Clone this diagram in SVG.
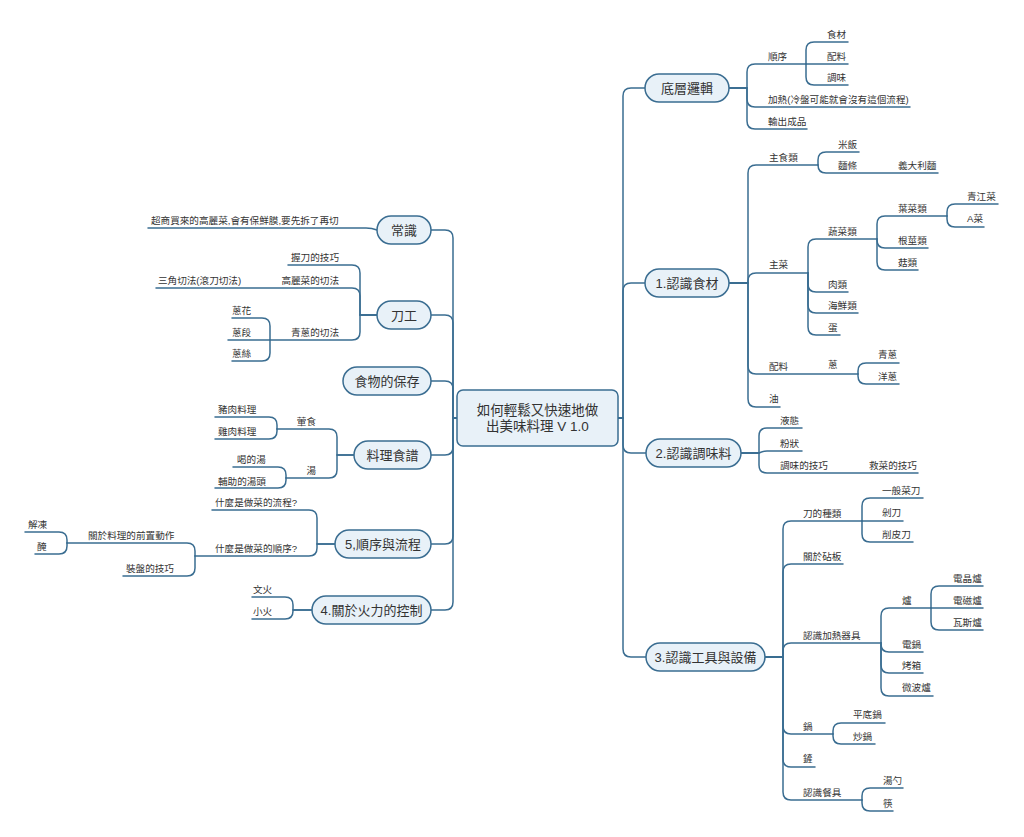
<svg xmlns="http://www.w3.org/2000/svg" width="1024" height="837" viewBox="0 0 1024 837">
<style>
.c{fill:none;stroke:#3a6d91;stroke-width:1.5;stroke-linecap:round}
.p{fill:#e8f1f8;stroke:#3a6d91;stroke-width:1.5}
.t{font-family:"Liberation Sans","Noto Sans CJK TC",sans-serif;font-size:9.6px;fill:#333}
.pt{font-family:"Liberation Sans","Noto Sans CJK TC",sans-serif;font-size:13px;fill:#333;text-anchor:middle}
.e{text-anchor:end}
</style>
<rect width="1024" height="837" fill="#fff"/>
<g id="connectors">
<path class="c" d="M618 418 H623 V96 Q623 88 631 88 H645"/>
<path class="c" d="M618 418 H623 V291 Q623 283 631 283 H645"/>
<path class="c" d="M618 418 H623 V445 Q623 453 631 453 H646"/>
<path class="c" d="M618 418 H623 V649 Q623 657 631 657 H646"/>
<path class="c" d="M729 88 H747 V72 Q747 64 755 64 H806"/>
<path class="c" d="M729 88 H747 V99 Q747 107 755 107 H910"/>
<path class="c" d="M729 88 H747 V121 Q747 129 755 129 H807"/>
<path class="c" d="M806 64 V50 Q806 42 814 42 H848"/>
<path class="c" d="M806 64 H848"/>
<path class="c" d="M806 64 V77 Q806 85 814 85 H848"/>
<path class="c" d="M729 283 H748 V173 Q748 165 756 165 H818"/>
<path class="c" d="M729 283 H748 V281 Q748 273 756 273 H808"/>
<path class="c" d="M729 283 H748 V366 Q748 374 756 374 H858"/>
<path class="c" d="M729 283 H748 V399 Q748 407 756 407 H780"/>
<path class="c" d="M818 165 V160 Q818 152 826 152 H859"/>
<path class="c" d="M818 165 Q818 173 826 173 H938"/>
<path class="c" d="M808 273 V247 Q808 239 816 239 H877"/>
<path class="c" d="M808 273 V284 Q808 292 816 292 H848"/>
<path class="c" d="M808 273 V305 Q808 313 816 313 H858"/>
<path class="c" d="M808 273 V327 Q808 335 816 335 H840"/>
<path class="c" d="M877 239 V224 Q877 216 885 216 H947"/>
<path class="c" d="M877 239 V240 Q877 248 885 248 H928"/>
<path class="c" d="M877 239 V262 Q877 270 885 270 H918"/>
<path class="c" d="M947 216 V212 Q947 204 955 204 H998"/>
<path class="c" d="M947 216 V219 Q947 227 955 227 H984"/>
<path class="c" d="M858 374 V371 Q858 363 866 363 H899"/>
<path class="c" d="M858 374 V376 Q858 384 866 384 H899"/>
<path class="c" d="M741 453 H759 V436 Q759 428 767 428 H802"/>
<path class="c" d="M741 453 H759 Q763 451 767 451 H802"/>
<path class="c" d="M741 453 H759 V465 Q759 473 767 473 H918"/>
<path class="c" d="M765 657 H783 V529 Q783 521 791 521 H862"/>
<path class="c" d="M765 657 H783 V572 Q783 564 791 564 H843"/>
<path class="c" d="M765 657 H783 V651 Q783 643 791 643 H881"/>
<path class="c" d="M765 657 H783 V726 Q783 734 791 734 H833"/>
<path class="c" d="M765 657 H783 V759 Q783 767 791 767 H815"/>
<path class="c" d="M765 657 H783 V792 Q783 800 791 800 H862"/>
<path class="c" d="M862 521 V506 Q862 498 870 498 H923"/>
<path class="c" d="M862 521 H903"/>
<path class="c" d="M862 521 V534 Q862 542 870 542 H913"/>
<path class="c" d="M881 643 V616 Q881 608 889 608 H931"/>
<path class="c" d="M881 643 V644 Q881 652 889 652 H923"/>
<path class="c" d="M881 643 V665 Q881 673 889 673 H923"/>
<path class="c" d="M881 643 V688 Q881 696 889 696 H933"/>
<path class="c" d="M931 608 V594 Q931 586 939 586 H983"/>
<path class="c" d="M931 608 H983"/>
<path class="c" d="M931 608 V622 Q931 630 939 630 H983"/>
<path class="c" d="M833 734 V731 Q833 723 841 723 H885"/>
<path class="c" d="M833 734 V736 Q833 744 841 744 H875"/>
<path class="c" d="M862 800 V796 Q862 788 870 788 H903"/>
<path class="c" d="M862 800 V803 Q862 811 870 811 H893"/>
<path class="c" d="M458 418 H453 V238 Q453 230 445 230 H431"/>
<path class="c" d="M458 418 H453 V323 Q453 315 445 315 H431"/>
<path class="c" d="M458 418 H453 V389 Q453 381 445 381 H431"/>
<path class="c" d="M458 418 H453 V447 Q453 455 445 455 H431"/>
<path class="c" d="M458 418 H453 V536 Q453 544 445 544 H431"/>
<path class="c" d="M458 418 H453 V602 Q453 610 445 610 H431"/>
<path class="c" d="M377 230 Q372 228 366 228 H148"/>
<path class="c" d="M377 315 H360 V273 Q360 265 352 265 H288"/>
<path class="c" d="M377 315 H360 V296 Q360 288 352 288 H156"/>
<path class="c" d="M377 315 H360 V332 Q360 340 352 340 H228"/>
<path class="c" d="M270 340 V326 Q270 318 262 318 H232"/>
<path class="c" d="M270 340 V353 Q270 361 262 361 H232"/>
<path class="c" d="M354 455 H337 V437 Q337 429 329 429 H277"/>
<path class="c" d="M354 455 H337 V470 Q337 478 329 478 H286"/>
<path class="c" d="M277 429 V425 Q277 417 269 417 H215"/>
<path class="c" d="M277 429 V431 Q277 439 269 439 H215"/>
<path class="c" d="M286 478 V475 Q286 467 278 467 H233"/>
<path class="c" d="M286 478 V480 Q286 488 278 488 H215"/>
<path class="c" d="M335 544 H317 V518 Q317 510 309 510 H212"/>
<path class="c" d="M335 544 H317 V548 Q317 556 309 556 H195"/>
<path class="c" d="M195 556 V551 Q195 543 187 543 H67"/>
<path class="c" d="M195 556 V568 Q195 576 187 576 H123"/>
<path class="c" d="M67 543 V540 Q67 532 59 532 H25"/>
<path class="c" d="M67 543 V546 Q67 554 59 554 H35"/>
<path class="c" d="M312 610 H293 V605 Q293 597 285 597 H252"/>
<path class="c" d="M312 610 H293 V611 Q293 619 285 619 H252"/>
</g>
<g id="center"><rect class="p" x="457" y="390" width="161" height="56" rx="6"/>
<text class="pt" style="font-size:13.5px" x="537.5" y="415">如何輕鬆又快速地做</text>
<text class="pt" style="font-size:13.5px" x="537.5" y="431">出美味料理 V 1.0</text></g>
<g id="n-dicengluoji"><rect class="p" x="645" y="74" width="84" height="28" rx="14"/><text class="pt" x="687" y="93">底層邏輯</text></g>
<g id="n-shicai"><rect class="p" x="645" y="269" width="84" height="28" rx="14"/><text class="pt" x="687" y="288">1.認識食材</text></g>
<g id="n-tiaoweiliao"><rect class="p" x="646" y="439" width="95" height="28" rx="14"/><text class="pt" x="693.5" y="458">2.認識調味料</text></g>
<g id="n-gongju"><rect class="p" x="646" y="643" width="119" height="28" rx="14"/><text class="pt" x="705.5" y="662">3.認識工具與設備</text></g>
<g id="n-changshi"><rect class="p" x="377" y="216" width="54" height="28" rx="14"/><text class="pt" x="404" y="235">常識</text></g>
<g id="n-daogong"><rect class="p" x="377" y="301" width="54" height="28" rx="14"/><text class="pt" x="404" y="320">刀工</text></g>
<g id="n-baocun"><rect class="p" x="343" y="367" width="88" height="28" rx="14"/><text class="pt" x="387" y="386">食物的保存</text></g>
<g id="n-shipu"><rect class="p" x="354" y="441" width="77" height="28" rx="14"/><text class="pt" x="392.5" y="460">料理食譜</text></g>
<g id="n-shunxu"><rect class="p" x="335" y="530" width="96" height="28" rx="14"/><text class="pt" x="383" y="549">5,順序與流程</text></g>
<g id="n-huoli"><rect class="p" x="312" y="596" width="119" height="28" rx="14"/><text class="pt" x="371.5" y="615">4.關於火力的控制</text></g>
<g id="labels">
<text class="t" x="768" y="60">順序</text>
<text class="t" x="827" y="38">食材</text>
<text class="t" x="827" y="60">配料</text>
<text class="t" x="827" y="81">調味</text>
<text class="t" x="768" y="103">加熱(冷盤可能就會沒有這個流程)</text>
<text class="t" x="768" y="125">輸出成品</text>
<text class="t" x="769" y="161">主食類</text>
<text class="t" x="838" y="148">米飯</text>
<text class="t" x="838" y="169">麵條</text>
<text class="t" x="898" y="169">義大利麵</text>
<text class="t" x="769" y="268">主菜</text>
<text class="t" x="828" y="235">蔬菜類</text>
<text class="t" x="898" y="212">葉菜類</text>
<text class="t" x="967" y="200">青江菜</text>
<text class="t" x="967" y="222">A菜</text>
<text class="t" x="898" y="244">根莖類</text>
<text class="t" x="898" y="266">菇類</text>
<text class="t" x="828" y="288">肉類</text>
<text class="t" x="828" y="309">海鮮類</text>
<text class="t" x="828" y="331">蛋</text>
<text class="t" x="769" y="370">配料</text>
<text class="t" x="828" y="368">蔥</text>
<text class="t" x="878" y="358">青蔥</text>
<text class="t" x="878" y="380">洋蔥</text>
<text class="t" x="769" y="402">油</text>
<text class="t" x="780" y="424">液態</text>
<text class="t" x="780" y="447">粉狀</text>
<text class="t" x="780" y="469">調味的技巧</text>
<text class="t" x="869" y="469">救菜的技巧</text>
<text class="t" x="803" y="517">刀的種類</text>
<text class="t" x="882" y="494">一般菜刀</text>
<text class="t" x="882" y="516">剁刀</text>
<text class="t" x="882" y="538">削皮刀</text>
<text class="t" x="803" y="560">關於砧板</text>
<text class="t" x="803" y="639">認識加熱器具</text>
<text class="t" x="902" y="604">爐</text>
<text class="t" x="953" y="582">電晶爐</text>
<text class="t" x="953" y="604">電磁爐</text>
<text class="t" x="953" y="626">瓦斯爐</text>
<text class="t" x="902" y="648">電鍋</text>
<text class="t" x="902" y="669">烤箱</text>
<text class="t" x="902" y="691">微波爐</text>
<text class="t" x="803" y="730">鍋</text>
<text class="t" x="853" y="718">平底鍋</text>
<text class="t" x="853" y="740">炒鍋</text>
<text class="t" x="803" y="762">鏟</text>
<text class="t" x="803" y="796">認識餐具</text>
<text class="t" x="883" y="784">湯勺</text>
<text class="t" x="883" y="807">筷</text>
<text class="t" x="151" y="224">超商買來的高麗菜,會有保鮮膜,要先拆了再切</text>
<text class="t e" x="339" y="261">握刀的技巧</text>
<text class="t e" x="339" y="284">高麗菜的切法</text>
<text class="t" x="158" y="284">三角切法(滾刀切法)</text>
<text class="t e" x="339" y="336">青蔥的切法</text>
<text class="t" x="232" y="314">蔥花</text>
<text class="t" x="232" y="336">蔥段</text>
<text class="t" x="232" y="357">蔥絲</text>
<text class="t" x="218" y="413">豬肉料理</text>
<text class="t" x="218" y="435">雞肉料理</text>
<text class="t e" x="316" y="425">葷食</text>
<text class="t" x="237" y="463">喝的湯</text>
<text class="t e" x="316" y="474">湯</text>
<text class="t" x="218" y="485">輔助的湯頭</text>
<text class="t" x="215" y="506">什麼是做菜的流程?</text>
<text class="t" x="215" y="552">什麼是做菜的順序?</text>
<text class="t" x="88" y="539">關於料理的前置動作</text>
<text class="t" x="28" y="528">解凍</text>
<text class="t" x="37" y="550">醃</text>
<text class="t" x="126" y="572">裝盤的技巧</text>
<text class="t" x="253" y="593">文火</text>
<text class="t" x="253" y="615">小火</text>
</g>
</svg>
